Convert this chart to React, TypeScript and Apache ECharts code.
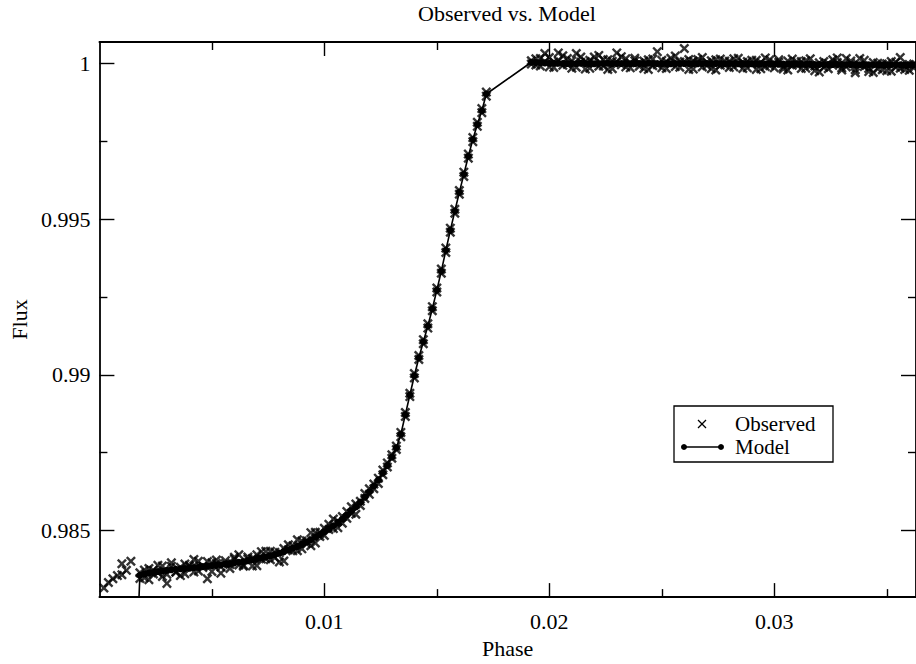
import React, { useEffect, useRef } from "react";
import * as echarts from "echarts";

const FONT = "'Liberation Serif', 'Times New Roman', 'DejaVu Serif', serif";

const titleText = "Observed vs. Model";
const xName = "Phase";
const yName = "Flux";
const xMajorTicks = [0.01, 0.02, 0.03];
const xMinorTicks = [0.005, 0.015, 0.025, 0.035];
const yMajorTicks = [0.985, 0.99, 0.995, 1];
const yMinorTicks = [0.9875, 0.9925, 0.9975];
const xRange = [0, 0.0363];
const yRange = [0.98286, 1.00069];

// observed phase grid
const obsPhase = [
  0.0002, 0.0004, 0.0006, 0.0008, 0.0010, 0.0012, 0.0014, 0.0016, 0.0018, 0.0020,
  0.0022, 0.0024, 0.0026, 0.0028, 0.0030, 0.0032, 0.0034, 0.0036, 0.0038, 0.0040,
  0.0042, 0.0044, 0.0046, 0.0048, 0.0050, 0.0052, 0.0054, 0.0056, 0.0058, 0.0060,
  0.0062, 0.0064, 0.0066, 0.0068, 0.0070, 0.0072, 0.0074, 0.0076, 0.0078, 0.0080,
  0.0082, 0.0084, 0.0086, 0.0088, 0.0090, 0.0092, 0.0094, 0.0096, 0.0098, 0.0100,
  0.0102, 0.0104, 0.0106, 0.0108, 0.0110, 0.0112, 0.0114, 0.0116, 0.0118, 0.0120,
  0.0122, 0.0124, 0.0126, 0.0128, 0.0130, 0.0132, 0.0134, 0.0136, 0.0138, 0.0140,
  0.0142, 0.0144, 0.0146, 0.0148, 0.0150, 0.0152, 0.0154, 0.0156, 0.0158, 0.0160,
  0.0162, 0.0164, 0.0166, 0.0168, 0.0170, 0.0172, 0.0174, 0.0176, 0.0178, 0.0180,
  0.0182, 0.0184, 0.0186, 0.0188, 0.0190, 0.0192, 0.0194, 0.0196, 0.0198, 0.0200,
  0.0202, 0.0204, 0.0206, 0.0208, 0.0210, 0.0212, 0.0214, 0.0216, 0.0218, 0.0220,
  0.0222, 0.0224, 0.0226, 0.0228, 0.0230, 0.0232, 0.0234, 0.0236, 0.0238, 0.0240,
  0.0242, 0.0244, 0.0246, 0.0248, 0.0250, 0.0252, 0.0254, 0.0256, 0.0258, 0.0260,
  0.0262, 0.0264, 0.0266, 0.0268, 0.0270, 0.0272, 0.0274, 0.0276, 0.0278, 0.0280,
  0.0282, 0.0284, 0.0286, 0.0288, 0.0290, 0.0292, 0.0294, 0.0296, 0.0298, 0.0300,
  0.0302, 0.0304, 0.0306, 0.0308, 0.0310, 0.0312, 0.0314, 0.0316, 0.0318, 0.0320,
  0.0322, 0.0324, 0.0326, 0.0328, 0.0330, 0.0332, 0.0334, 0.0336, 0.0338, 0.0340,
  0.0342, 0.0344, 0.0346, 0.0348, 0.0350, 0.0352, 0.0354, 0.0356, 0.0358, 0.0360,
  0.0362,
];

// observed flux, first pass
const obsFluxA = [
  0.98315, 0.98333, 0.98345, 0.98355, 0.98393, 0.98372, 0.98401, null, 0.98364, 0.98348,
  0.98378, 0.98360, 0.98388, 0.98352, 0.98330, 0.98385, 0.98366, 0.98355, 0.98392, 0.98385,
  0.98367, 0.98401, 0.98381, 0.98345, 0.98396, 0.98405, 0.98383, 0.98394, 0.98378, 0.98408,
  0.98422, 0.98389, 0.98408, 0.98386, 0.98422, 0.98408, 0.98433, 0.98406, 0.98430, 0.98399,
  0.98442, 0.98438, 0.98435, 0.98470, 0.98441, 0.98467, 0.98451, 0.98494, 0.98481, 0.98507,
  0.98503, 0.98537, 0.98509, 0.98545, 0.98539, 0.98576, 0.98552, 0.98594, 0.98619, 0.98616,
  0.98649, 0.98651, 0.98694, 0.98704, 0.98743, 0.98760, 0.98815, 0.98866, 0.98941, 0.98990,
  0.99062, 0.99100, 0.99164, 0.99206, 0.99279, 0.99326, 0.99407, 0.99458, 0.99532, 0.99580,
  0.99651, 0.99696, 0.99762, 0.99798, 0.99855, 0.99895, null, null, null, null,
  null, null, null, null, null, 1.00009, 0.99995, 1.00016, 1.00032, 0.99989,
  1.00005, 1.00034, 0.99994, 1.00016, 0.99985, 1.00032, 1.00004, 0.99982, 1.00010, 1.00021,
  0.99991, 1.00013, 0.99981, 1.00007, 1.00034, 0.99996, 1.00015, 0.99986, 1.00009, 1.00002,
  0.99984, 1.00012, 0.99993, 1.00038, 0.99986, 1.00006, 1.00017, 0.99990, 1.00005, 1.00048,
  0.99981, 1.00008, 1.00013, 0.99989, 1.00003, 0.99983, 1.00012, 0.99994, 1.00008, 0.99987,
  1.00015, 0.99997, 0.99984, 1.00006, 1.00010, 0.99981, 1.00003, 0.99990, 1.00012, 0.99986,
  1.00004, 0.99982, 1.00008, 0.99994, 1.00006, 0.99984, 1.00009, 0.99992, 0.99977, 1.00002,
  0.99988, 1.00000, 1.00012, 1.00018, 0.99986, 1.00016, 1.00000, 0.99980, 1.00016, 0.99990,
  0.99974, 1.00003, 0.99983, 0.99998, 0.99977, 1.00006, 0.99988, 1.00019, 0.99981, 0.99997,
  0.99986,
];

// observed flux, second pass
const obsFluxB = [
  null, null, null, null, 0.98358, null, null, null, 0.98346, 0.98373,
  0.98342, 0.98372, 0.98364, 0.98386, 0.98359, 0.98396, 0.98367, 0.98382, 0.98361, 0.98388,
  0.98407, 0.98370, 0.98385, 0.98400, 0.98368, 0.98394, 0.98363, 0.98403, 0.98391, 0.98414,
  0.98389, 0.98385, 0.98415, 0.98410, 0.98387, 0.98432, 0.98409, 0.98433, 0.98412, 0.98429,
  0.98402, 0.98454, 0.98451, 0.98435, 0.98466, 0.98458, 0.98493, 0.98460, 0.98494, 0.98484,
  0.98520, 0.98506, 0.98530, 0.98523, 0.98561, 0.98555, 0.98585, 0.98580, 0.98603, 0.98634,
  0.98634, 0.98668, 0.98679, 0.98717, 0.98732, 0.98771, 0.98801, 0.98879, 0.98930, 0.99004,
  0.99049, 0.99113, 0.99150, 0.99219, 0.99266, 0.99340, 0.99393, 0.99471, 0.99519, 0.99592,
  0.99637, 0.99709, 0.99749, 0.99811, 0.99842, 0.99908, null, null, null, null,
  null, null, null, null, null, 0.99998, 1.00015, 0.99992, 1.00006, 1.00019,
  0.99987, 1.00008, 1.00025, 0.99997, 1.00009, 0.99988, 1.00021, 1.00006, 0.99985, 1.00001,
  1.00026, 0.99992, 1.00012, 0.99983, 1.00005, 1.00022, 0.99989, 1.00002, 1.00017, 0.99991,
  1.00008, 0.99981, 1.00014, 0.99996, 1.00010, 0.99984, 1.00000, 1.00024, 0.99988, 1.00006,
  1.00013, 0.99982, 1.00002, 1.00019, 0.99993, 1.00009, 0.99979, 1.00014, 0.99996, 1.00007,
  0.99989, 1.00017, 1.00004, 0.99986, 0.99998, 1.00010, 0.99983, 1.00018, 0.99993, 1.00002,
  1.00012, 0.99989, 0.99979, 1.00014, 0.99996, 1.00006, 0.99985, 1.00015, 0.99992, 0.99973,
  1.00006, 0.99983, 0.99994, 1.00003, 0.99979, 0.99989, 1.00008, 0.99970, 0.99994, 1.00010,
  0.99984, 0.99971, 1.00001, 0.99980, 0.99999, 0.99975, 1.00004, 0.99985, 0.99992, 0.99978,
  0.99998,
];

const modelPhase = [
  0.0016,
  0.0018, 0.0020, 0.0022, 0.0024, 0.0026, 0.0028, 0.0030, 0.0032, 0.0034, 0.0036,
  0.0038, 0.0040, 0.0042, 0.0044, 0.0046, 0.0048, 0.0050, 0.0052, 0.0054, 0.0056,
  0.0058, 0.0060, 0.0062, 0.0064, 0.0066, 0.0068, 0.0070, 0.0072, 0.0074, 0.0076,
  0.0078, 0.0080, 0.0082, 0.0084, 0.0086, 0.0088, 0.0090, 0.0092, 0.0094, 0.0096,
  0.0098, 0.0100, 0.0102, 0.0104, 0.0106, 0.0108, 0.0110, 0.0112, 0.0114, 0.0116,
  0.0118, 0.0120, 0.0122, 0.0124, 0.0126, 0.0128, 0.0130, 0.0132,
  0.0134, 0.0136, 0.0138, 0.0140, 0.0142, 0.0144, 0.0146, 0.0148, 0.0150, 0.0152,
  0.0154, 0.0156, 0.0158, 0.0160, 0.0162, 0.0164, 0.0166, 0.0168, 0.0170, 0.0172,
  0.0192, 0.0194, 0.0196, 0.0198, 0.0200, 0.0202, 0.0204, 0.0206, 0.0208, 0.0210,
  0.0212, 0.0214, 0.0216, 0.0218, 0.0220, 0.0222, 0.0224, 0.0226, 0.0228, 0.0230,
  0.0232, 0.0234, 0.0236, 0.0238, 0.0240, 0.0242, 0.0244, 0.0246, 0.0248, 0.0250,
  0.0252, 0.0254, 0.0256, 0.0258, 0.0260, 0.0262, 0.0264, 0.0266, 0.0268, 0.0270,
  0.0272, 0.0274, 0.0276, 0.0278, 0.0280, 0.0282, 0.0284, 0.0286, 0.0288, 0.0290,
  0.0292, 0.0294, 0.0296, 0.0298, 0.0300, 0.0302, 0.0304, 0.0306, 0.0308, 0.0310,
  0.0312, 0.0314, 0.0316, 0.0318, 0.0320, 0.0322, 0.0324, 0.0326, 0.0328, 0.0330,
  0.0332, 0.0334, 0.0336, 0.0338, 0.0340, 0.0342, 0.0344, 0.0346, 0.0348, 0.0350,
  0.0352, 0.0354, 0.0356, 0.0358, 0.0360, 0.0362,
];

const modelFlux = [
  0.98000,
  0.98356, 0.98360, 0.98363, 0.98365, 0.98368, 0.98370, 0.98372, 0.98374, 0.98375, 0.98377,
  0.98378, 0.98379, 0.98381, 0.98382, 0.98384, 0.98385, 0.98387, 0.98388, 0.98390, 0.98392,
  0.98394, 0.98396, 0.98398, 0.98400, 0.98403, 0.98406, 0.98409, 0.98412, 0.98415, 0.98419,
  0.98423, 0.98427, 0.98432, 0.98437, 0.98443, 0.98449, 0.98456, 0.98463, 0.98470, 0.98478,
  0.98487, 0.98496, 0.98505, 0.98515, 0.98526, 0.98537, 0.98549, 0.98562, 0.98576, 0.98591,
  0.98607, 0.98624, 0.98643, 0.98663, 0.98685, 0.98709, 0.98736, 0.98766,
  0.98809, 0.98872, 0.98935, 0.98997, 0.99055, 0.99106, 0.99157, 0.99212, 0.99272, 0.99333,
  0.99400, 0.99464, 0.99526, 0.99586, 0.99644, 0.99702, 0.99756, 0.99804, 0.99848, 0.99902,
  1.00004, 1.00003, 1.00002, 1.00002, 1.00001, 1.00001, 1.00001, 1.00000, 1.00000, 1.00000,
  1.00000, 1.00001, 1.00000, 1.00000, 0.99999, 1.00000, 1.00000, 1.00001, 1.00000, 1.00000,
  1.00000, 1.00000, 0.99999, 1.00000, 1.00000, 1.00000, 1.00001, 1.00000, 1.00000, 1.00000,
  1.00000, 0.99999, 1.00000, 1.00000, 1.00000, 1.00000, 1.00000, 0.99999, 1.00000, 1.00000,
  1.00000, 1.00000, 0.99999, 0.99999, 1.00000, 0.99999, 0.99999, 0.99999, 0.99999, 0.99999,
  0.99999, 0.99999, 0.99998, 0.99999, 0.99998, 0.99998, 0.99998, 0.99998, 0.99998, 0.99998,
  0.99998, 0.99997, 0.99998, 0.99997, 0.99997, 0.99997, 0.99997, 0.99997, 0.99997, 0.99997,
  0.99997, 0.99996, 0.99997, 0.99996, 0.99996, 0.99996, 0.99996, 0.99996, 0.99996, 0.99996,
  0.99996, 0.99996, 0.99996, 0.99996, 0.99996, 0.99996,
];

const CROSS =
  "path://M0,1.7L1.7,0L5,3.3L8.3,0L10,1.7L6.7,5L10,8.3L8.3,10L5,6.7L1.7,10L0,8.3L3.3,5Z";

const labelStyle = { fontFamily: FONT, fontSize: 22, color: "#000" };

function xAxisDef(position: string, ticks: number[], len: number, main: boolean, withLabels: boolean) {
  return {
    type: "value",
    position,
    min: xRange[0],
    max: xRange[1],
    name: withLabels ? xName : "",
    nameLocation: "middle",
    nameGap: 34,
    nameTextStyle: labelStyle,
    axisLine: { show: main, onZero: false, lineStyle: { color: "#000", width: 1.8 } },
    axisTick: { show: true, inside: true, length: len, customValues: ticks, lineStyle: { color: "#000", width: 1.4 } },
    axisLabel: withLabels
      ? { show: true, customValues: xMajorTicks, margin: 13, ...labelStyle }
      : { show: false },
    splitLine: { show: false },
  };
}

function yAxisDef(position: string, ticks: number[], len: number, main: boolean, withLabels: boolean) {
  return {
    type: "value",
    position,
    min: yRange[0],
    max: yRange[1],
    name: withLabels ? yName : "",
    nameLocation: "middle",
    nameGap: 67,
    nameTextStyle: labelStyle,
    axisLine: { show: main, onZero: false, lineStyle: { color: "#000", width: 1.8 } },
    axisTick: { show: true, inside: true, length: len, customValues: ticks, lineStyle: { color: "#000", width: 1.4 } },
    axisLabel: withLabels
      ? { show: true, customValues: yMajorTicks, margin: 9, ...labelStyle }
      : { show: false },
    splitLine: { show: false },
  };
}

export default function App() {
  const ref = useRef<HTMLDivElement>(null);
  useEffect(() => {
    if (!ref.current) return;
    const chart = echarts.init(ref.current, undefined, { renderer: "svg" });

    const observed: [number, number][] = [];
    const n = Math.min(obsPhase.length, obsFluxA.length, obsFluxB.length);
    for (let i = 0; i < n; i++) {
      const a = obsFluxA[i];
      if (a != null) observed.push([obsPhase[i], a]);
    }
    for (let i = 0; i < n; i++) {
      const b = obsFluxB[i];
      if (b != null) observed.push([obsPhase[i], b]);
    }
    const m = Math.min(modelPhase.length, modelFlux.length);
    const model: [number, number][] = [];
    for (let i = 0; i < m; i++) model.push([modelPhase[i], modelFlux[i]]);

    const option: any = {
      animation: false,
      backgroundColor: "#fff",
      title: {
        text: titleText,
        left: 418,
        top: 2,
        padding: 0,
        textStyle: { fontFamily: FONT, fontSize: 22, fontWeight: "normal", color: "#000" },
      },
      grid: { left: 95, top: 42, width: 828, height: 569, containLabel: false },
      xAxis: [
        xAxisDef("bottom", xMajorTicks, 14, true, true),
        xAxisDef("bottom", xMinorTicks, 8, false, false),
        xAxisDef("top", xMajorTicks, 14, true, false),
        xAxisDef("top", xMinorTicks, 8, false, false),
      ],
      yAxis: [
        yAxisDef("left", yMajorTicks, 15, true, true),
        yAxisDef("left", yMinorTicks, 8, false, false),
        yAxisDef("right", yMajorTicks, 15, true, false),
        yAxisDef("right", yMinorTicks, 8, false, false),
      ],
      series: [
        {
          name: "Observed",
          type: "scatter",
          xAxisIndex: 0,
          yAxisIndex: 0,
          data: observed,
          symbol: CROSS,
          symbolSize: 10,
          itemStyle: { color: "#000" },
          z: 2,
        },
        {
          name: "Model",
          type: "line",
          xAxisIndex: 0,
          yAxisIndex: 0,
          data: model,
          symbol: "circle",
          symbolSize: 7,
          showSymbol: true,
          itemStyle: { color: "#000" },
          lineStyle: { color: "#000", width: 1.6 },
          z: 3,
        },
      ],
      graphic: [
        {
          type: "group",
          z: 100,
          children: [
            { type: "rect", shape: { x: 674, y: 406, width: 159, height: 56 }, style: { fill: "#fff", stroke: "#000", lineWidth: 1.3 } },
            { type: "line", shape: { x1: 698, y1: 420, x2: 706, y2: 428 }, style: { stroke: "#000", lineWidth: 1.3 } },
            { type: "line", shape: { x1: 706, y1: 420, x2: 698, y2: 428 }, style: { stroke: "#000", lineWidth: 1.3 } },
            { type: "text", x: 735, y: 424, style: { text: "Observed", fontFamily: FONT, fontSize: 21, fill: "#000", verticalAlign: "middle", align: "left" } },
            { type: "line", shape: { x1: 684, y1: 447, x2: 721, y2: 447 }, style: { stroke: "#000", lineWidth: 1.5 } },
            { type: "circle", shape: { cx: 684, cy: 447, r: 3 }, style: { fill: "#000" } },
            { type: "circle", shape: { cx: 721, cy: 447, r: 3 }, style: { fill: "#000" } },
            { type: "text", x: 735, y: 447, style: { text: "Model", fontFamily: FONT, fontSize: 21, fill: "#000", verticalAlign: "middle", align: "left" } },
          ],
        },
      ],
    };
    chart.setOption(option);
    return () => chart.dispose();
  }, []);
  return (
    <div
      ref={ref}
      style={{ position: "absolute", left: 0, top: 0, width: 916, height: 664, background: "#fff", overflow: "hidden" }}
    />
  );
}
